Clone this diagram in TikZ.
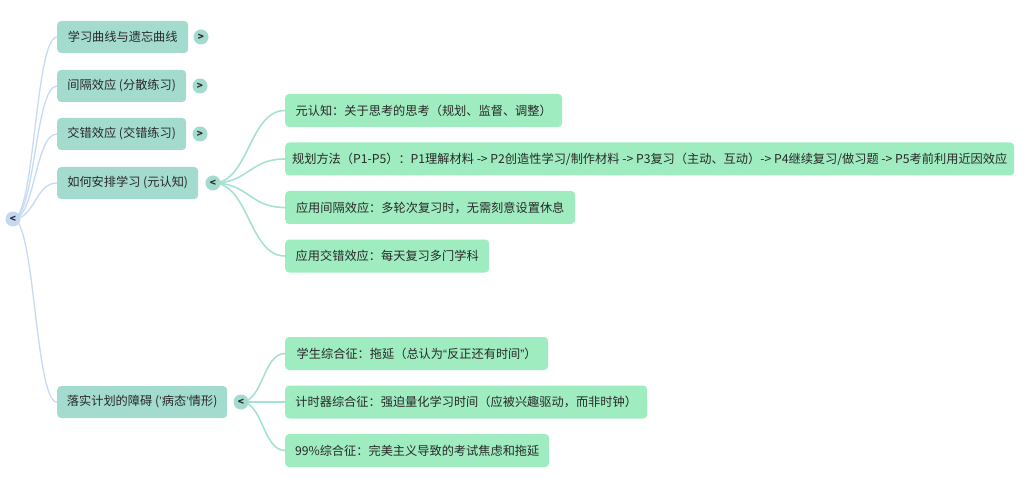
\documentclass[tikz,border=0pt]{standalone}
\usepackage{fontspec}
\setmainfont{Noto Sans CJK SC}
\newfontfamily\latinq{Liberation Sans}
\usetikzlibrary{calc}
\definecolor{lone}{RGB}{163,220,207}
\definecolor{ltwo}{RGB}{159,236,192}
\definecolor{linkblue}{RGB}{197,218,243}
\definecolor{linkteal}{RGB}{166,226,209}
\definecolor{rootc}{RGB}{196,216,240}
\definecolor{txt}{RGB}{40,40,40}
\begin{document}
\begin{tikzpicture}[x=1pt,y=-1pt,
  basebox/.style={rounded corners=4pt, anchor=west, inner xsep=0pt, inner ysep=0pt,
    font=\fontsize{12.2}{14}\selectfont, text=txt},
  onebox/.style={basebox, fill=lone, minimum height=32pt},
  twobox/.style={basebox, fill=ltwo, minimum height=33pt},
  knob/.style={circle, fill=lone, minimum size=15pt, inner sep=0pt, text=txt,
    font=\fontsize{10}{10}\selectfont\bfseries},
  rootknob/.style={knob, fill=rootc},
  bluelink/.style={draw=linkblue, line width=1.3pt},
  teallink/.style={draw=linkteal, line width=1.6pt}]
\useasboundingbox (0,0) rectangle (1024,478);

% level 1
\node[onebox, minimum width=131pt] (n1) at (57,37) {学习曲线与遗忘曲线};
\node[onebox, minimum width=129pt] (n2) at (57,86) {间隔效应 (分散练习)};
\node[onebox, minimum width=129pt] (n3) at (57,134) {交错效应 (交错练习)};
\node[onebox, minimum width=141pt] (n4) at (57,183) {如何安排学习 (元认知)};
\node[onebox, minimum width=170pt] (n5) at (57,402) {落实计划的障碍 ({\latinq ’}病态{\latinq ’}情形)};

% level 2
\node[twobox, minimum width=277pt] (a) at (285,110.5) {元认知：关于思考的思考（规划、监督、调整）};
\node[twobox, minimum width=729pt] (b) at (285,159) {规划方法（P1-P5）：P1理解材料 -> P2创造性学习/制作材料 -> P3复习（主动、互动）-> P4继续复习/做习题 -> P5考前利用近因效应};
\node[twobox, minimum width=290pt] (c) at (285,207.5) {应用间隔效应：多轮次复习时，无需刻意设置休息};
\node[twobox, minimum width=204pt] (d) at (285,256) {应用交错效应：每天复习多门学科};
\node[twobox, minimum width=263pt] (e) at (285,353.5) {学生综合征：拖延（总认为{\latinq “}反正还有时间{\latinq ”}）};
\node[twobox, minimum width=362pt] (f) at (285,402) {计时器综合征：强迫量化学习时间（应被兴趣驱动，而非时钟）};
\node[twobox, minimum width=264pt] (g) at (285,450.5) {99\%综合征：完美主义导致的考试焦虑和拖延};

% knob positions
\coordinate (rootp) at (13,219);
\coordinate (k4p) at (213,183);
\coordinate (k5p) at (241,402);

% root links
\foreach \t in {n1,n2,n3,n4,n5}
  \draw[bluelink] (rootp) .. controls ($(rootp)+(22,0)$) and ($(\t.west)+(-22,0)$) .. (\t.west);

% level-2 links
\foreach \t in {a,b,c,d}
  \draw[teallink] (k4p) .. controls ($(k4p)+(36,0)$) and ($(\t.west)+(-36,0)$) .. (\t.west);
\foreach \t in {e,f,g}
  \draw[teallink] (k5p) .. controls ($(k5p)+(22,0)$) and ($(\t.west)+(-22,0)$) .. (\t.west);

% knobs
\node[rootknob] (root) at (rootp) {<};
\node[knob] (k1) at (201,37) {>};
\node[knob] (k2) at (200,86) {>};
\node[knob] (k3) at (200,134) {>};
\node[knob] (k4) at (k4p) {<};
\node[knob] (k5) at (k5p) {<};
\end{tikzpicture}
\end{document}
